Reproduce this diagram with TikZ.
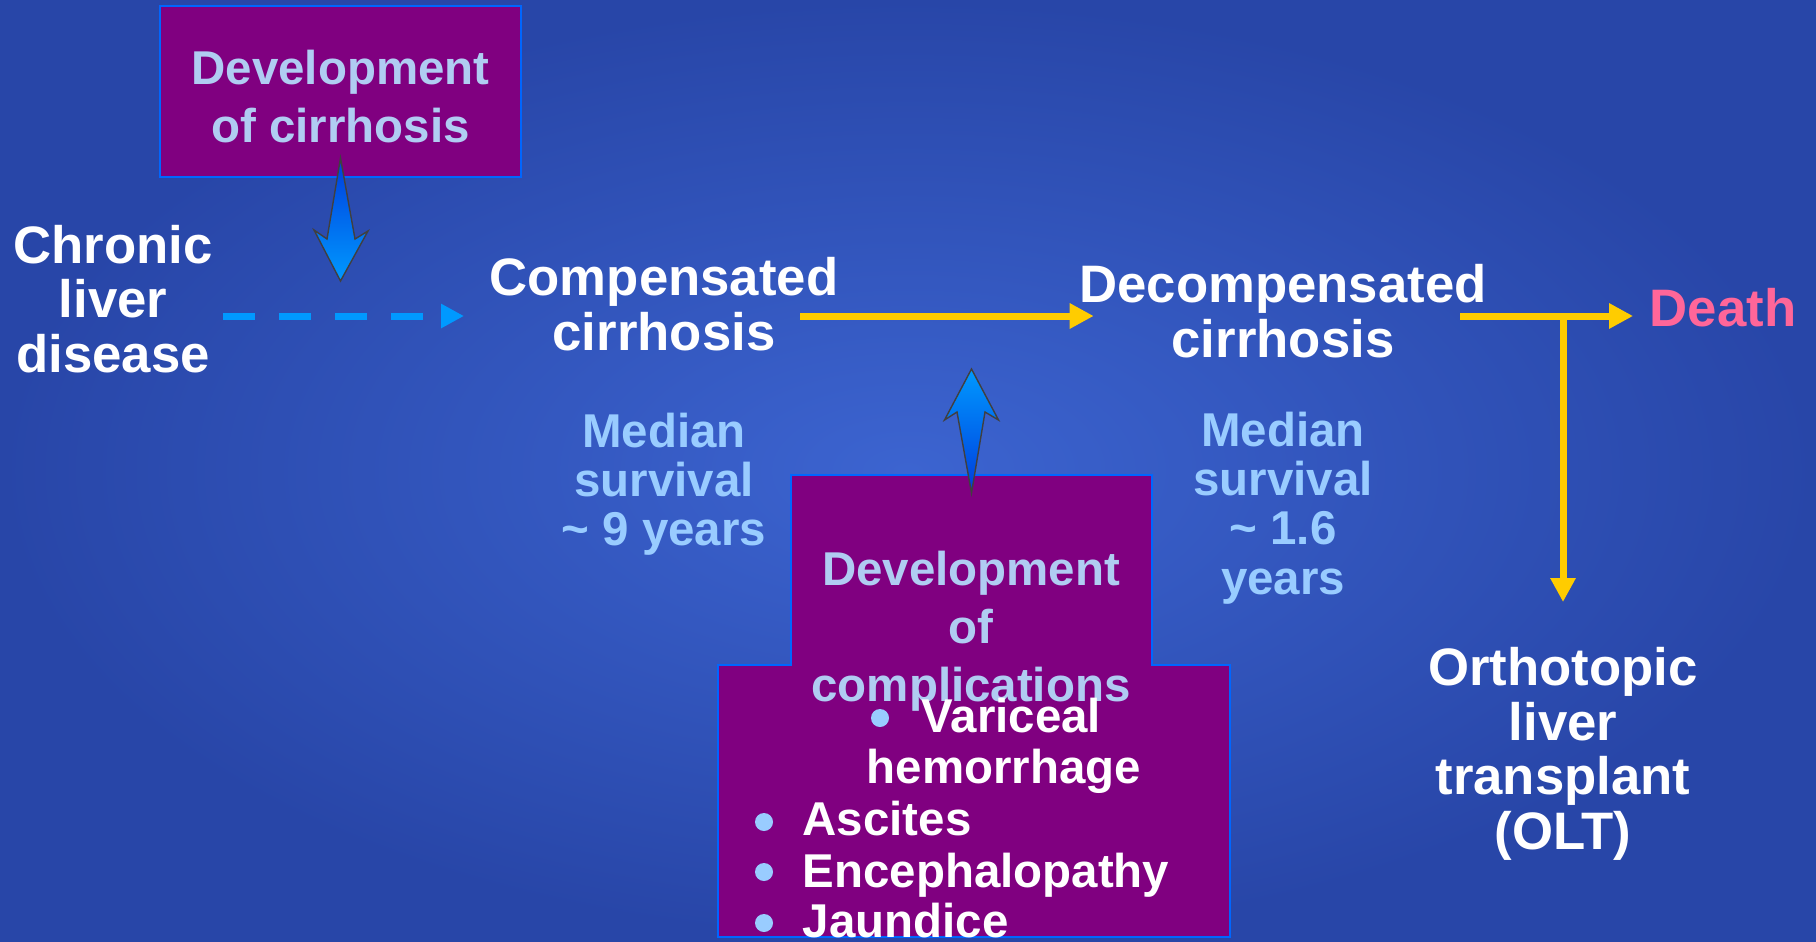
\documentclass[tikz,border=0pt]{standalone}
\usepackage{fontspec}
\setmainfont{Liberation Sans}
\usetikzlibrary{arrows.meta, calc}
\definecolor{bg-mid}{RGB}{60,100,208}
\definecolor{bg-edge}{RGB}{40,70,168}
\definecolor{box-purple}{RGB}{128,0,128}
\definecolor{box-edge}{RGB}{0,102,255}
\definecolor{pale-blue}{RGB}{176,204,242}
\definecolor{sky-blue}{RGB}{153,204,255}
\definecolor{arr-yellow}{RGB}{255,204,0}
\definecolor{arr-blue}{RGB}{0,153,255}
\definecolor{arr-deep}{RGB}{0,60,220}
\definecolor{death-pink}{RGB}{255,102,153}

\begin{document}
\begin{tikzpicture}[
    %% Disease stage label (white, large)
    stage/.style = {font=\fontsize{15}{15.5}\selectfont\bfseries,
                    text=white, align=center, inner sep=0pt},
    %% Median survival label
    surv/.style  = {font=\fontsize{13.5}{14}\selectfont\bfseries,
                    text=sky-blue, align=center, inner sep=0pt},
    %% Purple box
    pbox/.style  = {rectangle, draw=box-edge, line width=0.6pt,
                    fill=box-purple, inner sep=0pt, outer sep=0pt},
    ptext/.style = {font=\fontsize{13.5}{16.5}\selectfont\bfseries,
                    text=pale-blue, align=center, inner sep=0pt},
    %% Bullet list
    item/.style  = {font=\fontsize{13.5}{14}\selectfont\bfseries,
                    text=white, anchor=base west, inner sep=0pt},
    dot/.style   = {circle, fill=sky-blue, inner sep=0pt, minimum size=0.18cm},
    %% Connectors
    yarr/.style  = {-{Triangle[length=0.24cm, width=0.24cm]},
                    line width=0.07cm, color=arr-yellow},
    darr/.style  = {-{Triangle[length=0.23cm, width=0.23cm]},
                    line width=0.07cm, color=arr-blue,
                    dash pattern=on 0.32cm off 0.24cm},
    uparr/.style   = {top color=arr-blue, bottom color=arr-deep,
                      draw=black!75, line width=0.4pt},
    downarr/.style = {top color=arr-deep, bottom color=arr-blue,
                      draw=black!75, line width=0.4pt},
]

%% ---- Background ----
\shade[inner color=bg-mid, outer color=bg-edge] (0,0) rectangle (18.16,-9.41);
\useasboundingbox (0,0) rectangle (18.16,-9.41);

%% ---- Main row: stages ----
\coordinate (axis) at (0,-3.16);
\node[stage] (chronic) at (1.13,-2.99)  {Chronic\\liver\\disease};
\node[stage] (comp)    at (6.64,-3.04)  {Compensated\\cirrhosis};
\node[stage] (decomp)  at (12.83,-3.11) {Decompensated\\cirrhosis};
\node[stage, text=death-pink] (death) at (17.23,-3.08) {Death};
\node[stage] (olt)     at (15.63,-7.54) {Orthotopic\\liver\\transplant\\(OLT)};

%% median survival
\node[surv] (surv1) at (6.64,-4.84)  {Median\\survival\\\textasciitilde{} 9 years};
\node[surv] (surv2) at (12.83,-5.08) {Median\\survival\\\textasciitilde{} 1.6\\years};

%% stage arrows
\draw[darr] ($(chronic.east |- axis)+(0.10,0)$) -- ($(comp.west |- axis)+(-0.25,0)$);
\draw[yarr] ($(comp.east |- axis)+(-0.39,0)$) -- ($(decomp.west |- axis)+(0.15,0)$);
\draw[yarr] ($(decomp.east |- axis)+(-0.27,0)$) -- ($(death.west |- axis)+(-0.16,0)$);
\draw[yarr, shorten >=0.39cm] (olt.north |- axis) -- ([yshift=0.06cm]olt.north);

%% ---- Top: development of cirrhosis ----
\node[pbox, minimum width=3.61cm, minimum height=1.71cm] (dcirr) at (3.405,-0.915) {};
\node[ptext] (dcirrtext) at (3.405,-0.965) {Development\\of cirrhosis};

\begin{scope}[shift={(dcirr.south)}]
  \shade[downarr] (0,0.19) -- (0.145,-0.62) -- (0.275,-0.54) -- (0,-1.04)
      -- (-0.265,-0.53) -- (-0.135,-0.62) -- cycle;
\end{scope}

%% ---- Bottom: development of complications ----
\node[pbox, minimum width=3.61cm, minimum height=1.90cm] (devbox)  at (9.715,-5.70) {};
\node[pbox, minimum width=5.12cm, minimum height=2.72cm] (listbox) at (9.74,-8.01) {};
\fill[box-purple] ([xshift=0.3pt, yshift=1pt]devbox.south west)
    rectangle ([xshift=-0.3pt, yshift=-1pt]devbox.south east);

\begin{scope}[shift={(devbox.north)}]
  \shade[uparr] (0,-0.18) -- (0.135,0.63) -- (0.27,0.55) -- (0,1.06)
      -- (-0.27,0.55) -- (-0.145,0.63) -- cycle;
\end{scope}

\node[ptext] (devtext) at (9.71,-6.31) {Development\\of\\complications};

%% complication list
\node[dot]  (b1) at (8.80,-7.18) {};
\node[item] (i1) at (9.21,-7.32) {Variceal};
\node[item] (i1b) at (8.66,-7.83) {hemorrhage};
\node[dot]  (b2) at (7.64,-8.22) {};
\node[item] (i2) at (8.02,-8.35) {Ascites};
\node[dot]  (b3) at (7.64,-8.72) {};
\node[item] (i3) at (8.02,-8.87) {Encephalopathy};
\node[dot]  (b4) at (7.64,-9.23) {};
\node[item] (i4) at (8.02,-9.37) {Jaundice};

\end{tikzpicture}
\end{document}
